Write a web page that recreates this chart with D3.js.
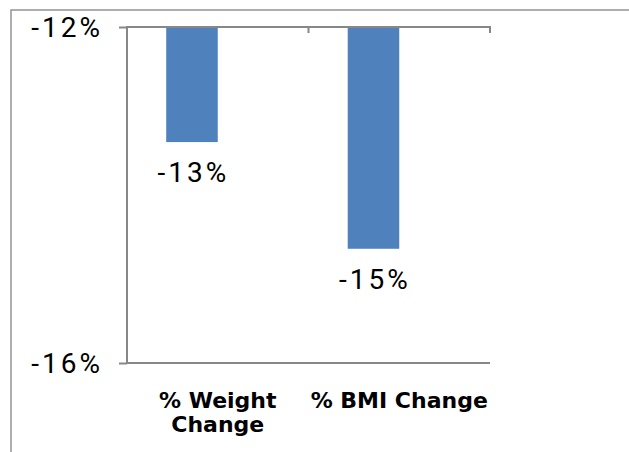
<!DOCTYPE html>
<html>
<head>
<meta charset="utf-8">
<script src="https://cdn.jsdelivr.net/npm/d3@7"></script>
<style>
  html, body { margin: 0; padding: 0; background: #fff; }
  svg { display: block; }
</style>
</head>
<body>
<svg id="chart" width="629" height="452"></svg>
<script>
// Change in weight and BMI, in percent
const categories = ["% Weight Change", "% BMI Change"];
const categoryLines = [["% Weight", "Change"], ["% BMI Change"]];
const changeValues = [-13.37, -14.64];
const yTicks = [-12, -16];

const svg = d3.select("#chart");
const W = 629, H = 452;
const plot = { left: 127, right: 490, top: 27, bottom: 363 };

// outer chart frame (runs off the right and bottom edges)
svg.append("rect")
  .attr("x", 11).attr("y", 10)
  .attr("width", W + 20).attr("height", H + 20)
  .attr("fill", "#fff")
  .attr("stroke", "#9a9a9a").attr("stroke-width", 1.6);

const y = d3.scaleLinear().domain([-12, -16]).range([plot.top, plot.bottom]);
const x = d3.scaleBand().domain(categories).range([plot.left, plot.right]);

// bars sit in the left part of each category slot
const barOffset = x.bandwidth() * 0.216;
const barWidth = x.bandwidth() * 0.284;

const axisColor = "#878787";

// bars hang down from the -12% baseline
svg.append("g").selectAll("rect")
  .data(categories)
  .join("rect")
  .attr("x", (d) => x(d) + barOffset)
  .attr("y", y(-12))
  .attr("width", barWidth)
  .attr("height", (d, i) => y(changeValues[i]) - y(-12))
  .attr("fill", "#4f81bd");

// value axis on the left
const yAxis = svg.append("g")
  .attr("transform", `translate(${plot.left},0)`)
  .call(d3.axisLeft(y).tickValues(yTicks).tickSize(8).tickFormat(() => ""));
yAxis.select(".domain").remove();
yAxis.selectAll("line").attr("stroke", axisColor).attr("stroke-width", 2);
svg.append("line")
  .attr("x1", plot.left).attr("x2", plot.left)
  .attr("y1", y(-12) - 1).attr("y2", y(-16) + 1)
  .attr("stroke", axisColor).attr("stroke-width", 2);

// bottom line at the lowest tick
svg.append("line")
  .attr("x1", plot.left).attr("x2", plot.right)
  .attr("y1", y(-16)).attr("y2", y(-16))
  .attr("stroke", axisColor).attr("stroke-width", 2);

// category axis along the top, ticks pointing down
const xEdges = categories.map((c) => x(c)).concat([plot.right]);
svg.append("line")
  .attr("x1", plot.left).attr("x2", plot.right + 1)
  .attr("y1", y(-12)).attr("y2", y(-12))
  .attr("stroke", axisColor).attr("stroke-width", 2);
svg.append("g").selectAll("line")
  .data(xEdges)
  .join("line")
  .attr("x1", (d) => d).attr("x2", (d) => d)
  .attr("y1", y(-12)).attr("y2", y(-12) + 6)
  .attr("stroke", axisColor).attr("stroke-width", 2);

const pct = (v) => `${Math.round(v)}%`;
const lightFont = "Roboto, sans-serif";
const spacing = 3;

// tick labels
svg.append("g").selectAll("text")
  .data(yTicks)
  .join("text")
  .attr("x", 100 + spacing)
  .attr("y", (d) => y(d) + 10)
  .attr("text-anchor", "end")
  .attr("font-family", lightFont)
  .attr("font-size", 28)
  .attr("letter-spacing", spacing)
  .attr("fill", "#000")
  .text(pct);

// value labels under each bar
svg.append("g").selectAll("text")
  .data(categories)
  .join("text")
  .attr("x", (d) => x(d) + barOffset + barWidth / 2 + spacing / 2)
  .attr("y", (d, i) => y(changeValues[i]) + 40)
  .attr("text-anchor", "middle")
  .attr("font-family", lightFont)
  .attr("font-size", 28)
  .attr("letter-spacing", spacing)
  .attr("fill", "#000")
  .text((d, i) => pct(changeValues[i]));

// category labels
const catG = svg.append("g");
categories.forEach((c, i) => {
  const t = catG.append("text")
    .attr("x", x(c) + x.bandwidth() / 2)
    .attr("y", 408)
    .attr("text-anchor", "middle")
    .attr("font-family", "'DejaVu Sans', Verdana, sans-serif")
    .attr("font-weight", "bold")
    .attr("font-size", 22)
    .attr("fill", "#000");
  categoryLines[i].forEach((line, j) => {
    t.append("tspan")
      .attr("x", x(c) + x.bandwidth() / 2)
      .attr("dy", j === 0 ? 0 : 23.5)
      .text(line);
  });
});
</script>
</body>
</html>
